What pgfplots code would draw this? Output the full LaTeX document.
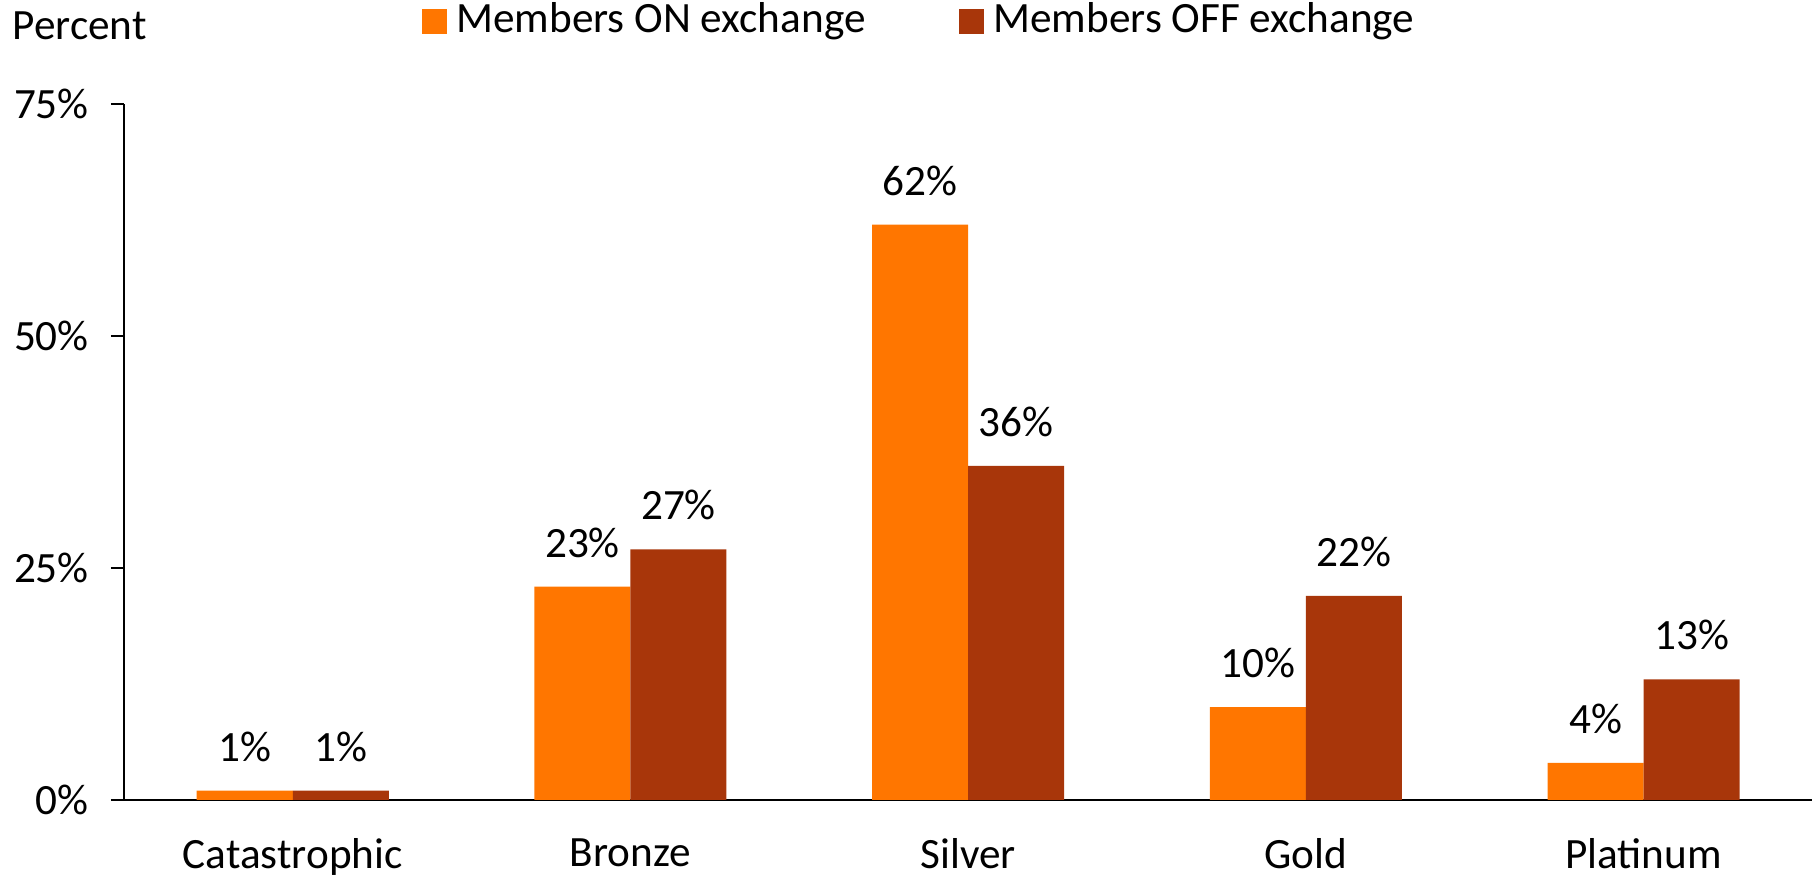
\documentclass[border=0pt]{standalone}
\usepackage{fontspec}
\setmainfont{Carlito}
\usepackage{pgfplots}
\pgfplotsset{compat=1.18}
\definecolor{onc}{RGB}{255,118,0}
\definecolor{offc}{RGB}{168,54,10}
\newcommand{\chartfont}{\fontsize{12.3}{14}\selectfont}
\begin{document}
\chartfont
\begin{tikzpicture}
\begin{axis}[
  scale only axis,
  width=168.85mm, height=69.6mm,
  ybar=0pt, bar width=9.6mm,
  xmin=-0.5, xmax=4.5, ymin=0, ymax=75,
  axis x line=bottom, axis y line=left,
  axis line style={line width=0.6pt, -},
  tick style={line width=0.6pt, black},
  tick align=outside,
  xtick={0,1,2,3,4},
  xticklabels={Catastrophic,Bronze,Silver,Gold,Platinum},
  x tick style={draw=none},
  extra x ticks={-0.5,0.5,1.5,2.5,3.5,4.5},
  extra x tick labels={},
  extra x tick style={major tick length=1.5mm, tick style={draw=black}},
  ytick={0,25,50,75},
  yticklabels={0\%,25\%,50\%,75\%},
  major tick length=1.3mm,
  x tick label style={yshift=-3pt, font=\chartfont},
  y tick label style={xshift=-2pt, font=\chartfont},
  /pgf/number format/assume math mode=true,
  nodes near coords={\pgfmathprintnumber{\pgfplotspointmeta}\%},
  every node near coord/.append style={anchor=south, yshift=4pt, font=\chartfont, black},
  legend columns=2,
  legend style={at={(0.4726,1.119)}, anchor=center, draw=none, fill=none,
    font=\chartfont,
    /tikz/every odd column/.append style={column sep=0.2mm},
    /tikz/every even column/.append style={column sep=8.7mm}},
  legend image code/.code={\fill[#1] (0mm,-1.25mm) rectangle (2.5mm,1.25mm);},
  clip=false,
]
\addplot[fill=onc, draw=none] coordinates {(0,1) (1,23) (2,62) (3,10) (4,4)};
\addplot[fill=offc, draw=none] coordinates {(0,1) (1,27) (2,36) (3,22) (4,13)};
\legend{Members ON exchange, Members OFF exchange}
\node[anchor=base west, inner sep=0pt, font=\chartfont] at ([xshift=-11.2mm, yshift=6.4mm]rel axis cs:0,1) {Percent};
\end{axis}
\pgfresetboundingbox
\path[use as bounding box] ([shift={(-12.39mm,-7.9mm)}]current axis.south west) rectangle ([shift={(0.36mm,10.4mm)}]current axis.north east);
\end{tikzpicture}
\end{document}
